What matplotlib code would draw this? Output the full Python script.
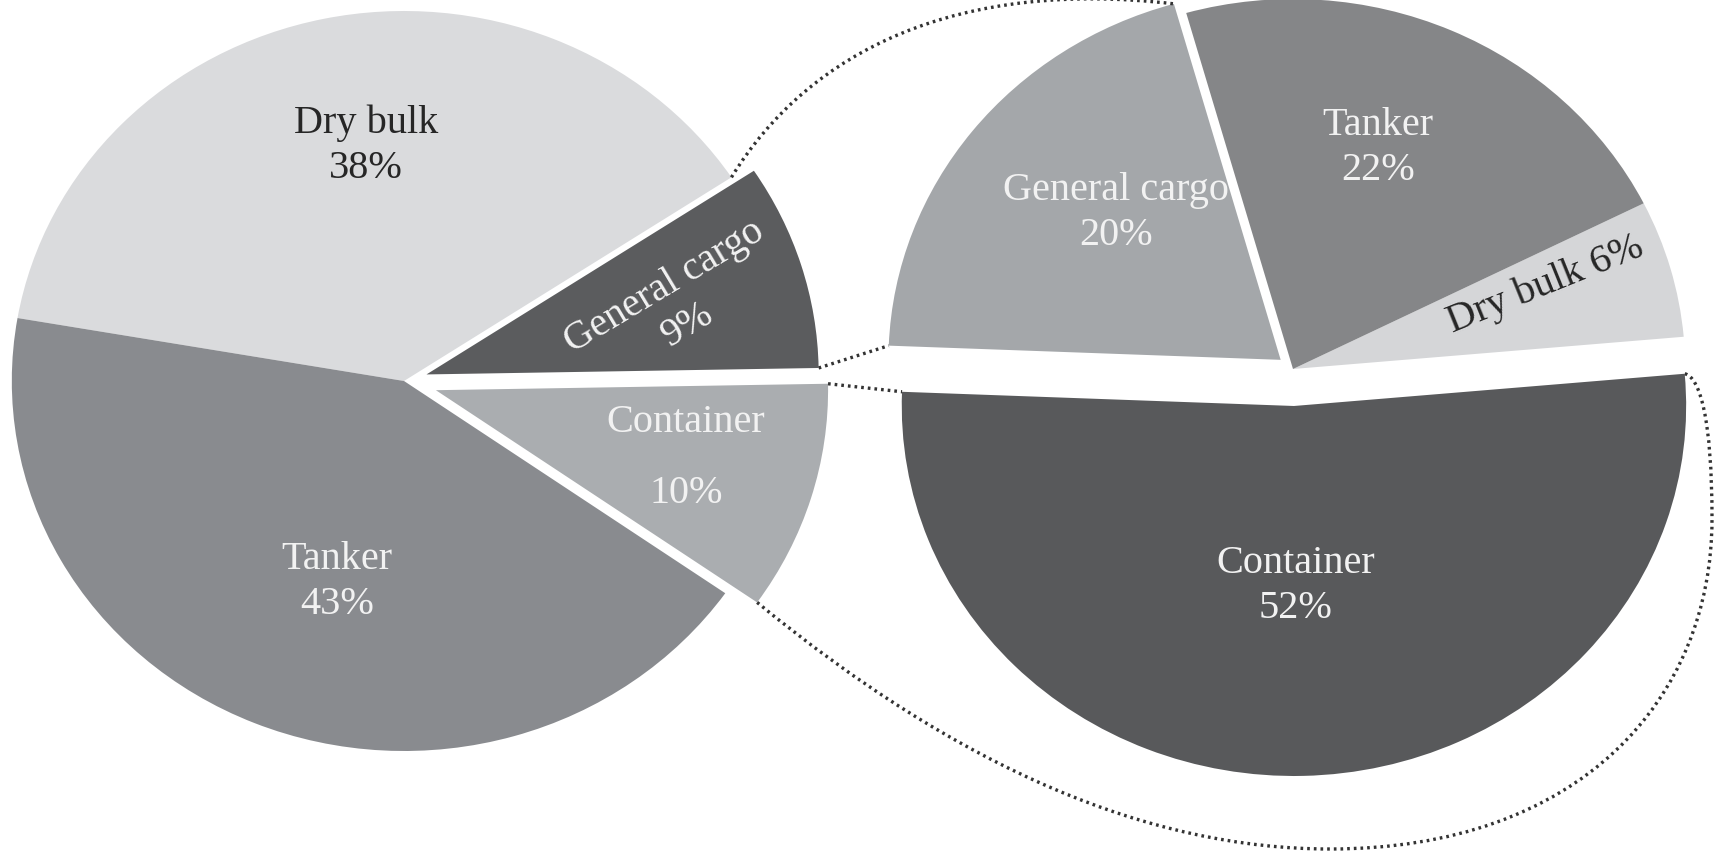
import numpy as np
import matplotlib.pyplot as plt
from matplotlib.path import Path
from matplotlib.patches import PathPatch

# ---------------- data ----------------
left_labels = ['General cargo', 'Dry bulk', 'Tanker', 'Container']
left_values = [9, 38, 43, 10]
left_colors = ['#5b5c5e', '#dadbdd', '#898b8f', '#aaadb0']
left_explode = [0.06, 0, 0, 0.085]

right_labels = ['Dry bulk', 'Tanker', 'General cargo', 'Container']
right_values = [6, 22, 20, 52]
right_colors = ['#d5d6d8', '#858688', '#a4a7aa', '#58595b']
right_explode = [0, 0, 0.04, 0.1]

# ---------------- layout helpers ----------------
W, H = 1732, 853
SX = 1.06          # the picture is a little wider than tall
R = 370


def P(px, py):
    """pixel position -> data position"""
    return (px / SX, H - py)


fig = plt.figure(figsize=(W / 100, H / 100), dpi=100)
ax = fig.add_axes([0, 0, 1, 1])

# explode is in data units when a radius is given
wl, _ = ax.pie(left_values, colors=left_colors,
               explode=[e * R for e in left_explode],
               startangle=1, counterclock=True, radius=R,
               center=P(404, 382), wedgeprops=dict(linewidth=0))
wr, _ = ax.pie(right_values, colors=right_colors,
               explode=[e * R for e in right_explode],
               startangle=5, counterclock=True, radius=R,
               center=P(1293, 370), wedgeprops=dict(linewidth=0))

ax.set_aspect('auto')
ax.set_xlim(0, W / SX)
ax.set_ylim(0, H)
ax.axis('off')


def corner(w, which):
    th = np.deg2rad(w.theta1 if which == 1 else w.theta2)
    cx, cy = w.center
    return np.array([cx + w.r * np.cos(th), cy + w.r * np.sin(th)])


dot = dict(color='#333333', lw=2.4, linestyle=(0, (0.8, 1.2)))

gc_l, cont_l = wl[0], wl[3]
gc_r, cont_r = wr[2], wr[3]

# straight connectors
a, b = corner(gc_l, 1), corner(gc_r, 2)
ax.plot([a[0], b[0]], [a[1], b[1]], **dot)
a, b = corner(cont_l, 2), corner(cont_r, 1)
ax.plot([a[0], b[0]], [a[1], b[1]], **dot)

# upper curved connector (from the dry bulk / general cargo corner)
a, b = corner(wl[1], 1), corner(gc_r, 1)
verts = [tuple(a), P(810, 50), P(960, -20), tuple(b)]
ax.add_patch(PathPatch(Path(verts, [Path.MOVETO, Path.CURVE4, Path.CURVE4, Path.CURVE4]),
                       fill=False, **dot))

# lower curved connector around the container slice
a, b = corner(cont_l, 1), corner(cont_r, 2)
verts = [tuple(a), P(960, 770), P(1150, 850), P(1330, 850),
         P(1580, 850), P(1712, 700), P(1712, 520),
         P(1712, 420), P(1700, 378), tuple(b)]
codes = [Path.MOVETO] + [Path.CURVE4] * 9
ax.add_patch(PathPatch(Path(verts, codes), fill=False, **dot))

# ---------------- labels ----------------
font = dict(family='Liberation Serif', size=29, ha='center', va='center',
            linespacing=1.3)
ax.text(*P(366, 146), 'Dry bulk\n38%', color='#262626', **font)
ax.text(*P(337, 582), 'Tanker\n43%', color='#f2f2f2', **font)
ax.text(*P(676, 306), 'General cargo\n9%', color='#f2f2f2', rotation=31,
        rotation_mode='anchor', **font)
ax.text(*P(686, 422), 'Container', color='#f2f2f2', **font)
ax.text(*P(686, 494), '10%', color='#f2f2f2', **font)

ax.text(*P(1116, 213), 'General cargo\n20%', color='#f2f2f2', **font)
ax.text(*P(1378, 148), 'Tanker\n22%', color='#f2f2f2', **font)
ax.text(*P(1545, 285), 'Dry bulk 6%', color='#262626', rotation=22,
        rotation_mode='anchor', **font)
ax.text(*P(1296, 586), 'Container\n52%', color='#f2f2f2', **font)

fig.savefig('out.png', dpi=100)
